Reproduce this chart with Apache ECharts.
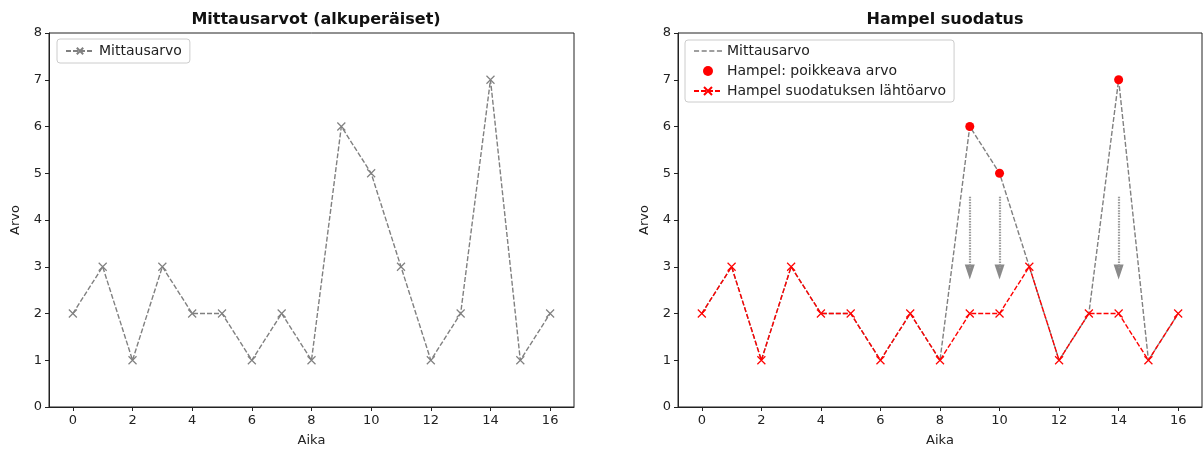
<!DOCTYPE html>
<html>
<head>
<meta charset="utf-8">
<script src="https://cdn.jsdelivr.net/npm/echarts@6/dist/echarts.min.js"></script>
<style>html,body{margin:0;padding:0;background:#fff;}#c{width:1203px;height:452px;}</style>
</head>
<body>
<div id="c"></div>
<script>
const xs = [0,1,2,3,4,5,6,7,8,9,10,11,12,13,14,15,16];
const measured = [2,3,1,3,2,2,1,2,1,6,5,3,1,2,7,1,2];
const filtered = [2,3,1,3,2,2,1,2,1,2,2,3,1,2,2,1,2];
const outlierX = [9,10,14];
const outlierY = [6,5,7];
const arrowX = [9,10,14];
const arrowTop = [4.5,4.5,4.5];
const arrowShaftEnd = [2.95,2.95,2.95];
const arrowHeadCenter = [2.89,2.89,2.89];
const xTicks = [0,2,4,6,8,10,12,14,16];
const titles = ['Mittausarvot (alkuperäiset)', 'Hampel suodatus'];
const names = ['Mittausarvo', 'Mittausarvo ', 'Hampel: poikkeava arvo', 'Hampel suodatuksen lähtöarvo'];

const FONT = 'DejaVu Sans';
const XSYM = 'path://M0,0L10,10M10,0L0,10';
const DASH_ICON = 'path://M0,4.3h5v1.4h-5z M7.5,4.3h5v1.4h-5z M15,4.3h5v1.4h-5z M22.5,4.3h5v1.4h-5z';
const pairs = (a, b) => a.map((v, i) => [v, b[i]]);

function xAxis(gi) {
  return {
    type: 'value', gridIndex: gi, min: -0.8, max: 16.8,
    name: 'Aika', nameLocation: 'middle', nameGap: 27,
    nameTextStyle: {color: '#222', fontSize: 13, fontFamily: FONT},
    axisLine: {show: true, onZero: false, lineStyle: {color: '#222', width: 1}},
    axisTick: {show: true, length: 4, customValues: xTicks, lineStyle: {color: '#222'}},
    axisLabel: {customValues: xTicks, color: '#222', fontSize: 13, fontFamily: FONT, margin: 7},
    splitLine: {show: false}
  };
}
function yAxis(gi) {
  return {
    type: 'value', gridIndex: gi, min: 0, max: 8, interval: 1,
    name: 'Arvo', nameLocation: 'middle', nameGap: 27, nameRotate: 90,
    nameTextStyle: {color: '#222', fontSize: 13, fontFamily: FONT},
    axisLine: {show: true, onZero: false, lineStyle: {color: '#222', width: 1}},
    axisTick: {show: true, length: 4, lineStyle: {color: '#222'}},
    axisLabel: {color: '#222', fontSize: 13, fontFamily: FONT, margin: 7},
    splitLine: {show: false}
  };
}

const chart = echarts.init(document.getElementById('c'), null, {renderer: 'canvas'});
chart.setOption({
  animation: false,
  backgroundColor: '#fff',
  title: [
    {text: titles[0], left: 311, top: 7, textAlign: 'center',
     textStyle: {fontFamily: FONT, fontSize: 16, fontWeight: 'bold', color: '#111'}},
    {text: titles[1], left: 940, top: 7, textAlign: 'center',
     textStyle: {fontFamily: FONT, fontSize: 16, fontWeight: 'bold', color: '#111'}}
  ],
  grid: [
    {left: 49, right: 629, top: 33, bottom: 44, show: true, borderColor: '#222', borderWidth: 1, backgroundColor: '#fff'},
    {left: 678, right: 1, top: 33, bottom: 44, show: true, borderColor: '#222', borderWidth: 1, backgroundColor: '#fff'}
  ],
  xAxis: [xAxis(0), xAxis(1)],
  yAxis: [yAxis(0), yAxis(1)],
  legend: [
    {data: [names[0]], left: 57, top: 39, orient: 'vertical', borderColor: '#ccc', borderWidth: 1, borderRadius: 3,
     padding: [5, 8], itemWidth: 28, itemHeight: 8, selectedMode: false,
     textStyle: {fontFamily: FONT, fontSize: 14, color: '#222'}},
    {data: [{name: names[1], icon: DASH_ICON}, names[2], names[3]], left: 685, top: 40, orient: 'vertical',
     borderColor: '#ccc', borderWidth: 1, borderRadius: 3,
     padding: [4, 8], itemWidth: 28, itemHeight: 10, itemGap: 6, selectedMode: false,
     textStyle: {fontFamily: FONT, fontSize: 14, color: '#222'}}
  ],
  series: [
    {name: names[0], type: 'line', xAxisIndex: 0, yAxisIndex: 0, data: pairs(xs, measured),
     symbol: XSYM, symbolSize: 8, showAllSymbol: true,
     lineStyle: {color: '#808080', width: 1.4, type: [5, 2]},
     itemStyle: {color: 'rgba(0,0,0,0)', borderColor: '#808080', borderWidth: 1.2},
     silent: true},
    {name: names[1], type: 'line', xAxisIndex: 1, yAxisIndex: 1, data: pairs(xs, measured),
     symbol: 'none', z: 2,
     lineStyle: {color: '#808080', width: 1.4, type: [5, 2]},
     itemStyle: {color: '#808080'},
     silent: true,
     markLine: {
       silent: true, symbol: ['none', 'none'],
       label: {show: false},
       lineStyle: {color: '#999999', width: 2.2, type: [1.5, 1.2]},
       data: arrowX.map((x, i) => [{coord: [x, arrowTop[i]]}, {coord: [x, arrowShaftEnd[i]]}])
     }},
    {name: 'arrowheads', type: 'scatter', xAxisIndex: 1, yAxisIndex: 1, data: pairs(arrowX, arrowHeadCenter),
     symbol: 'path://M0,0L10,0L5,15Z', symbolSize: [10, 15], z: 2,
     itemStyle: {color: '#8a8a8a', opacity: 1}, silent: true},
    {name: names[2], type: 'scatter', xAxisIndex: 1, yAxisIndex: 1, data: pairs(outlierX, outlierY),
     symbol: 'circle', symbolSize: 9, z: 3,
     itemStyle: {color: '#ff0000', opacity: 1}, silent: true},
    {name: names[3], type: 'line', xAxisIndex: 1, yAxisIndex: 1, data: pairs(xs, filtered),
     symbol: XSYM, symbolSize: 8, showAllSymbol: true, z: 4,
     lineStyle: {color: '#ff0000', width: 1.4, type: [5, 2]},
     itemStyle: {color: 'rgba(0,0,0,0)', borderColor: '#ff0000', borderWidth: 1.2},
     silent: true}
  ]
});
</script>
</body>
</html>
